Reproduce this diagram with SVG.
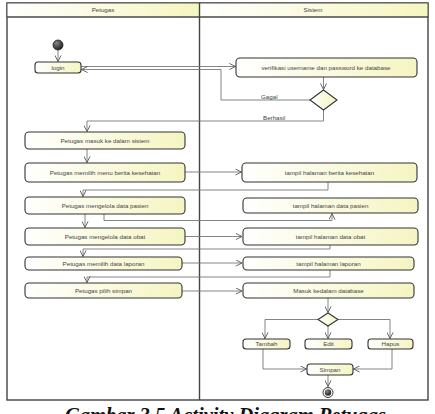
<svg xmlns="http://www.w3.org/2000/svg" width="435" height="414" viewBox="0 0 435 414">
<style>
.node{fill:url(#ng);stroke:#333;stroke-width:1.1}
.hdr{fill:url(#hg);stroke:#555;stroke-width:1}
.t{font-family:"Liberation Sans",Arial,sans-serif;font-size:6.2px;fill:#444;text-anchor:middle}
.lbl{font-family:"Liberation Sans",Arial,sans-serif;font-size:6.2px;fill:#444}
.c{fill:none;stroke:#777;stroke-width:0.9;marker-end:url(#ar)}
.cap{font-family:"Liberation Serif","Times New Roman",serif;font-size:20.5px;font-weight:bold;font-style:italic;fill:#111}
</style>
<defs>
<linearGradient id="ng" x1="0" y1="0" x2="1" y2="0">
<stop offset="0" stop-color="#ffffff"/><stop offset="1" stop-color="#f5f5c2"/>
</linearGradient>
<linearGradient id="hg" x1="0" y1="0" x2="1" y2="0">
<stop offset="0" stop-color="#ffffff"/><stop offset="1" stop-color="#f6f6c0"/>
</linearGradient>
<radialGradient id="dk" cx="0.35" cy="0.3" r="0.8">
<stop offset="0" stop-color="#888"/><stop offset="1" stop-color="#111"/>
</radialGradient>
<marker id="ar" viewBox="0 0 8 8" refX="7.5" refY="4" markerWidth="7" markerHeight="7" markerUnits="userSpaceOnUse" orient="auto">
<path d="M0.5,0.5 L7.5,4 L0.5,7.5" fill="none" stroke="#555" stroke-width="1"/>
</marker>
</defs>
<rect width="435" height="414" fill="#fff"/>

<g id="swimlanes">
<rect x="7" y="3" width="421" height="397" fill="#fff" stroke="#444" stroke-width="1.4"/>
<rect class="hdr" x="7" y="3" width="192.5" height="14"/>
<rect class="hdr" x="199.5" y="3" width="228.5" height="14"/>
<line x1="199.5" y1="3" x2="199.5" y2="400" stroke="#444" stroke-width="1.4"/>
<line x1="7" y1="17" x2="428" y2="17" stroke="#444" stroke-width="1.2"/>
<text class="t" x="103" y="12.2">Petugas</text>
<text class="t" x="313" y="12.2">Sistem</text>
</g>

<g id="connectors">
<path class="c" d="M58,50 V61.5"/>
<path class="c" d="M81,66.5 H235.5"/>
<path class="c" d="M310,100 H221 V69.5 H81.5"/>
<path class="c" d="M323.5,77 V89.5"/>
<path class="c" d="M323.5,110 V121 H87 V131.5"/>
<path class="c" d="M87,149 V162.5"/>
<path class="c" d="M185,172 H241.5"/>
<path class="c" d="M328,182 V190 H83 V196.5"/>
<path class="c" d="M85,214 V227.5"/>
<path class="c" d="M104,214 V220.5 H332 V213.5"/>
<path class="c" d="M185,236.5 H242"/>
<path class="c" d="M330,245 V249 H83 V256.5"/>
<path class="c" d="M182,263 H242"/>
<path class="c" d="M330,270 V277 H87 V282.5"/>
<path class="c" d="M182,291 H242"/>
<path class="c" d="M328,298 V312.5"/>
<path class="c" d="M318,319.5 H265 V338.5"/>
<path class="c" d="M328,326 V338.5"/>
<path class="c" d="M338,319.5 H390 V338.5"/>
<path class="c" d="M263,349 V369 H306.5"/>
<path class="c" d="M392,349 V369 H353.5"/>
<path class="c" d="M328,375 V386.5"/>
<text class="lbl" x="261" y="99">Gagal</text>
<text class="lbl" x="263" y="119.5">Berhasil</text>
</g>

<g id="start"><circle cx="58" cy="45" r="5" fill="url(#dk)" stroke="#222" stroke-width="0.8"/></g>
<g id="login"><rect class="node" x="35" y="62" width="46" height="11" rx="3"/><text class="t" x="58" y="69.8">login</text></g>
<g id="verifikasi"><rect class="node" x="236" y="58" width="181" height="19" rx="4"/><text class="t" x="326" y="69.8">verifikasi username dan password ke database</text></g>
<g id="decision1"><path d="M323.5,90 L337,100 L323.5,110 L310,100 Z" fill="url(#ng)" stroke="#333" stroke-width="1.1"/></g>
<g id="masuk"><rect class="node" x="25" y="132" width="160" height="17" rx="4"/><text class="t" x="105" y="142.8">Petugas masuk ke dalam sistem</text></g>
<g id="menu"><rect class="node" x="25" y="163" width="160" height="19" rx="4"/><text class="t" x="105" y="174.8">Petugas memilih menu berita kesehatan</text></g>
<g id="pasien"><rect class="node" x="25" y="197" width="160" height="17" rx="4"/><text class="t" x="105" y="207.8">Petugas mengelola data pasien</text></g>
<g id="obat"><rect class="node" x="25" y="228" width="160" height="17" rx="4"/><text class="t" x="105" y="238.8">Petugas mengelola data obat</text></g>
<g id="laporan"><rect class="node" x="25" y="257" width="157" height="13" rx="4"/><text class="t" x="103.5" y="265.8">Petugas memilih data laporan</text></g>
<g id="simpanP"><rect class="node" x="25" y="283" width="157" height="15" rx="4"/><text class="t" x="103.5" y="292.8">Petugas pilih simpan</text></g>
<g id="tberita"><rect class="node" x="242" y="163" width="175" height="19" rx="4"/><text class="t" x="329.5" y="174.8">tampil halaman berita kesehatan</text></g>
<g id="tpasien"><rect class="node" x="243" y="198" width="175" height="15" rx="4"/><text class="t" x="330.5" y="207.8">tampil halaman data pasien</text></g>
<g id="tobat"><rect class="node" x="243" y="228" width="175" height="17" rx="4"/><text class="t" x="330.5" y="238.8">tampil halaman data obat</text></g>
<g id="tlaporan"><rect class="node" x="243" y="257" width="171" height="13" rx="4"/><text class="t" x="328.5" y="265.8">tampil halaman laporan</text></g>
<g id="masukdb"><rect class="node" x="243" y="283" width="171" height="15" rx="4"/><text class="t" x="328.5" y="292.8">Masuk kedalam database</text></g>
<g id="decision2"><path d="M328,313 L338,319.5 L328,326 L318,319.5 Z" fill="url(#ng)" stroke="#333" stroke-width="1.1"/></g>
<g id="tambah"><rect class="node" x="243" y="339" width="47" height="10" rx="3"/><text class="t" x="266.5" y="346.3">Tambah</text></g>
<g id="edit"><rect class="node" x="305" y="339" width="47" height="10" rx="3"/><text class="t" x="328.5" y="346.3">Edit</text></g>
<g id="hapus"><rect class="node" x="368" y="339" width="45" height="10" rx="3"/><text class="t" x="390.5" y="346.3">Hapus</text></g>
<g id="simpan"><rect class="node" x="307" y="364" width="46" height="11" rx="3"/><text class="t" x="330" y="371.8">Simpan</text></g>
<g id="end"><circle cx="328" cy="392.5" r="5" fill="#fff" stroke="#333" stroke-width="1"/><circle cx="328" cy="392.5" r="3.2" fill="url(#dk)"/></g>

<text class="cap" x="65" y="421.5">Gambar 3.5 Activity Diagram Petugas</text>
</svg>
